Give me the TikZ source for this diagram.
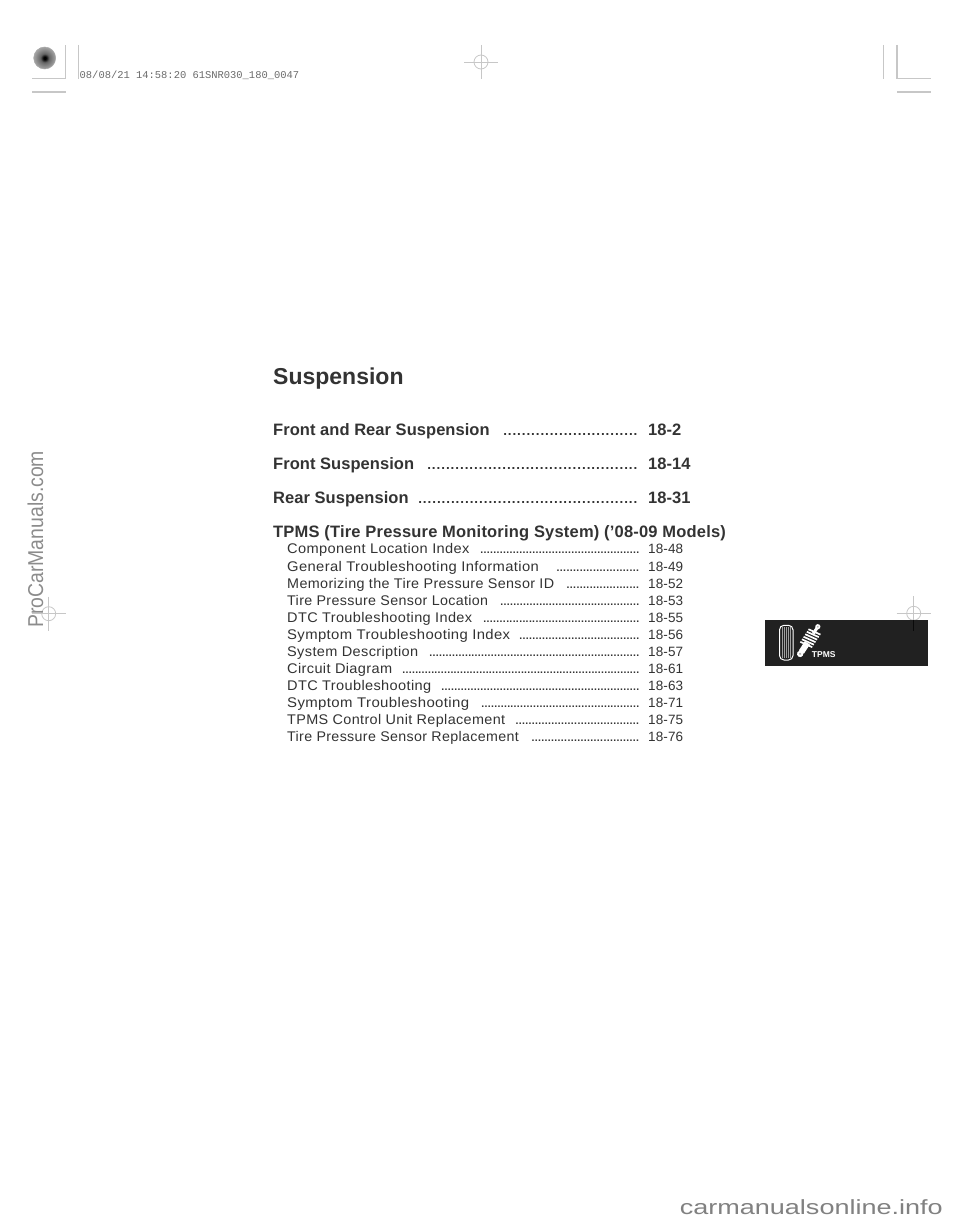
\documentclass[tikz,border=0pt]{standalone}
\usepackage{fontspec}
\usepackage{graphicx}
\setmainfont{Liberation Sans}
\newfontfamily\headfont[LetterSpace=0.3]{Liberation Sans Bold}
\newfontfamily\longheadfont[LetterSpace=1.2]{Liberation Sans Bold}
\newfontfamily\titlefont{Liberation Sans Bold}
\newfontfamily\subfont[LetterSpace=2.5]{Liberation Sans}
\newfontfamily\pagefont[LetterSpace=1]{Liberation Sans}
\newfontfamily\stampfont{Liberation Mono}
\newcommand{\dotrun}[2]{\hbox to #1pt{\xleaders\hbox to #2pt{\hss.\hss}\hfill}}
\definecolor{crop}{gray}{0.78}
\definecolor{stamp}{gray}{0.42}
\definecolor{wm}{gray}{0.55}
\definecolor{ink}{gray}{0.2}
\definecolor{band}{gray}{0.13}
\definecolor{pa}{gray}{0}
\definecolor{pb}{gray}{0.4}
\definecolor{pc}{gray}{0.6}
\definecolor{pd}{gray}{0.75}
\pgfdeclareradialshading{punch}{\pgfpoint{0bp}{0bp}}{color(0bp)=(pa);color(3bp)=(pa);color(10bp)=(pb);color(22bp)=(pc);color(33bp)=(pd);color(50bp)=(pd)}
\tikzset{
 x=1pt,y=-1pt,
 cropline/.style={draw=crop,line width=1.2pt},
 reg/.style={draw=crop,line width=0.8pt},
 head/.style={anchor=base west,inner sep=0,font=\headfont\fontsize{16.5}{18}\selectfont,text=ink},
 sub/.style={anchor=base west,inner sep=0,font=\subfont\fontsize{14}{16}\selectfont,text=ink},
 pg/.style={anchor=base west,inner sep=0,font=\pagefont\fontsize{13.5}{15}\selectfont,text=ink},
 dotsb/.style={anchor=base east,inner sep=0,font=\bfseries\fontsize{13.5}{15}\selectfont,text=ink},
 dotss/.style={anchor=base east,inner sep=0,font=\bfseries\fontsize{10.5}{13}\selectfont,text=ink},
}
\newcommand{\regmark}[2]{%
 \draw[reg] (#1-17,#2)--(#1+17,#2) (#1,#2-17)--(#1,#2+17);
 \draw[reg] (#1,#2) circle (7);}
\newcommand{\hentry}[5]{% name y text dotsw page
 \node[head] (#1) at (273,#2) {#3};
 \node[dotsb] (#1d) at (638,#2) {\dotrun{#4}{4.65}};
 \node[head] (#1p) at (648,#2) {#5};}
\newcommand{\sentry}[6]{% name y text textw dotsw page
 \node[sub] (#1) at (287,#2) {\resizebox{#4pt}{\height}{#3}};
 \node[dotss] (#1d) at (639.5,#2) {\dotrun{#5}{3.2}};
 \node[pg] (#1p) at (648,#2) {#6};}
\begin{document}
\begin{tikzpicture}
\useasboundingbox (0,0) rectangle (960,1223);
\fill[white] (0,0) rectangle (960,1223);
% crop marks
\draw[cropline] (32,78.7)--(65.7,78.7)--(65.7,45);
\draw[cropline] (32,92)--(65.7,92);
\draw[cropline] (78.7,45)--(78.7,78.7);
\draw[cropline] (883.7,45)--(883.7,78.7);
\draw[cropline] (897,45)--(897,78.7)--(931,78.7);
\draw[cropline] (897,92)--(931,92);
\regmark{481}{62}
\regmark{48.7}{613.7}
\regmark{913.7}{613.3}
% punch
\shade[shading=punch] (44.7,58) circle (11);
\draw[gray!70,line width=.5pt] (44.7,58) circle (11);
\node[anchor=base west,inner sep=0,font=\stampfont\fontsize{10.45}{12}\selectfont,text=stamp] (st) at (79.5,78) {08/08/21 14:58:20 61SNR030\_180\_0047};
% title
\node[anchor=base west,inner sep=0,font=\titlefont\fontsize{23}{25}\selectfont,text=ink] (title) at (273,384) {Suspension};
\hentry{a}{435}{Front and Rear Suspension}{135}{18-2}
\hentry{b}{469}{Front Suspension}{211}{18-14}
\hentry{c}{503}{Rear Suspension}{220}{18-31}
\node[anchor=base west,inner sep=0,font=\longheadfont\fontsize{16.5}{18}\selectfont,text=ink] (d) at (273,537.4) {TPMS (Tire Pressure Monitoring System) (’08-09 Models)};
\sentry{s1}{553.6}{Component Location Index}{182.3}{159}{18-48}
\sentry{s2}{571}{General Troubleshooting Information}{251.7}{83}{18-49}
\sentry{s3}{588}{Memorizing the Tire Pressure Sensor ID}{267}{73}{18-52}
\sentry{s4}{605}{Tire Pressure Sensor Location}{201}{139}{18-53}
\sentry{s5}{622}{DTC Troubleshooting Index}{185}{156}{18-55}
\sentry{s6}{639}{Symptom Troubleshooting Index}{223}{120}{18-56}
\sentry{s7}{656}{System Description}{131}{210}{18-57}
\sentry{s8}{673}{Circuit Diagram}{105}{237}{18-61}
\sentry{s9}{690}{DTC Troubleshooting}{144}{198}{18-63}
\sentry{s10}{707}{Symptom Troubleshooting}{182}{158}{18-71}
\sentry{s11}{724}{TPMS Control Unit Replacement}{218}{124}{18-75}
\sentry{s12}{741}{Tire Pressure Sensor Replacement}{231.7}{108}{18-76}
% tab
\fill[band] (765,620) rectangle (928,666);
\draw[gray!8!black,line width=.7pt] (913.7,620)--(913.7,630.5);
\draw[white,line width=1pt,fill=band,rounded corners=4.5pt] (779.5,625.3) rectangle (793,660);
\foreach \xx in {782.5,784.5,786.3,788,790} \draw[gray!75,line width=.7pt] (\xx,627)--(\xx,658);
\begin{scope}[shift={(809,640.3)},rotate=-33]
 \fill[white] (-1.5,-16) rectangle (1.5,-8);
 \fill[white] (-3,3) rectangle (3,14);
 \foreach \yy in {-10,-7,-4,-1,2,5} \draw[white,line width=1.7pt] (-6.5,\yy+1)--(6.5,\yy-1);
 \fill[white] (0,-16.2) circle (2.6);
 \fill[gray!60] (0,-16.2) circle (1);
 \fill[white] (0,16.2) circle (3.2);
 \fill[gray!60] (0,16.2) circle (1.2);
\end{scope}
\node[anchor=base west,inner sep=0,font=\bfseries\fontsize{8.5}{10}\selectfont,text=white] (t) at (811.7,657.5) {TPMS};
% watermarks
\node[rotate=90,anchor=base west,inner sep=0,font=\fontsize{21.5}{24}\selectfont,text=wm] (w1) at (43,628) {\resizebox{177pt}{\height}{ProCarManuals.com}};
\node[anchor=base east,inner sep=0,font=\fontsize{20.5}{22}\selectfont,text=wm!110] (w2) at (943,1214) {\resizebox{263pt}{\height}{carmanualsonline.info}};
\end{tikzpicture}
\end{document}
